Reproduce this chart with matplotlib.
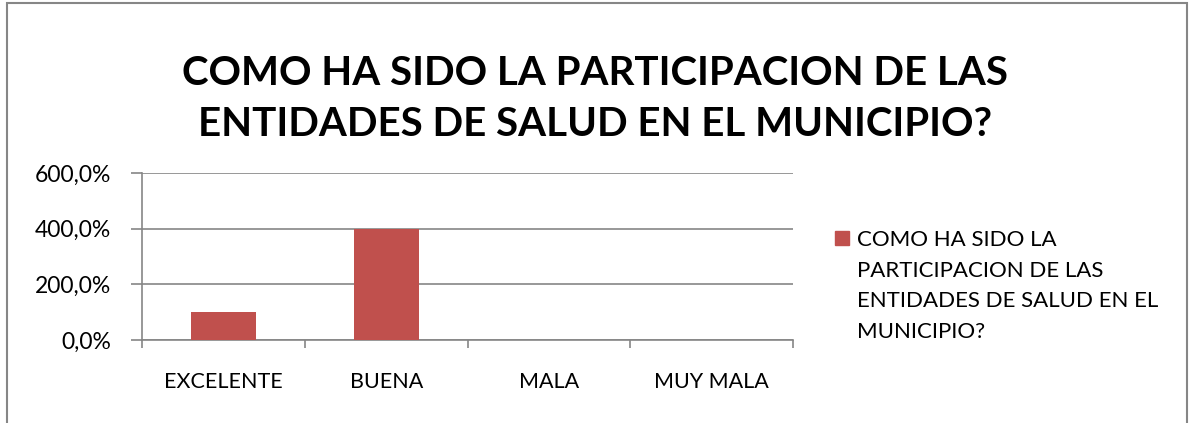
import matplotlib.pyplot as plt
import matplotlib.ticker as mticker
import numpy as np

plt.rcParams['font.family'] = ['Lato', 'DejaVu Sans']

categorias = ['EXCELENTE', 'BUENA', 'MALA', 'MUY MALA']
valores = [100.0, 400.0, 0.0, 0.0]
titulo = 'COMO HA SIDO LA PARTICIPACION DE LAS\nENTIDADES DE SALUD EN EL MUNICIPIO?'
serie = 'COMO HA SIDO LA\nPARTICIPACION DE LAS\nENTIDADES DE SALUD EN EL\nMUNICIPIO?'

rojo = '#C0504D'
gris = '#868686'

fig = plt.figure(figsize=(11.9, 4.23), dpi=100)

# marco del grafico
fig.patches.append(plt.Rectangle((7/1190, -0.01), 1180/1190, 1 - 3/423 + 0.01,
                                 transform=fig.transFigure, fill=False,
                                 edgecolor=gris, linewidth=1.5))

ax = fig.add_axes([142/1190, 1 - 340/423, (793-142)/1190, (340-173)/423])

x = np.arange(len(categorias))
ax.bar(x, valores, width=0.4, color=rojo, zorder=3)

ax.set_xlim(-0.5, 3.5)
ax.set_ylim(0, 600)
ax.set_yticks([0, 200, 400, 600])
ax.yaxis.set_major_formatter(mticker.FuncFormatter(lambda v, p: f'{v:.1f}%'.replace('.', ',')))
ax.set_xticks(x)
ax.set_xticklabels(categorias)
ax.set_xticks(np.arange(-0.5, 4.0, 1.0), minor=True)
ax.tick_params(axis='x', which='major', length=0, pad=23, labelsize=15.5)
ax.tick_params(axis='x', which='minor', length=6, color=gris, width=1.2)
ax.tick_params(axis='y', length=8, color=gris, width=1.2, labelsize=16.5, pad=14)

ax.grid(axis='y', color=gris, linewidth=1.2, zorder=0)
for s in ['top', 'right']:
    ax.spines[s].set_visible(False)
ax.spines['left'].set_color(gris)
ax.spines['bottom'].set_color(gris)
ax.spines['left'].set_linewidth(1.2)
ax.spines['bottom'].set_linewidth(1.2)

fig.text(0.5, 1 - 99/423, titulo, ha='center', va='center', fontsize=29,
         fontweight='bold', linespacing=1.45)

# leyenda
fig.patches.append(plt.Rectangle((835/1190, 1 - 245/423), 14/1190, 14/423,
                                 transform=fig.transFigure, color=rojo))
fig.text(857/1190, 1 - 230/423, serie, ha='left', va='top', fontsize=16,
         linespacing=1.66)

fig.savefig('out.png', dpi=100)
